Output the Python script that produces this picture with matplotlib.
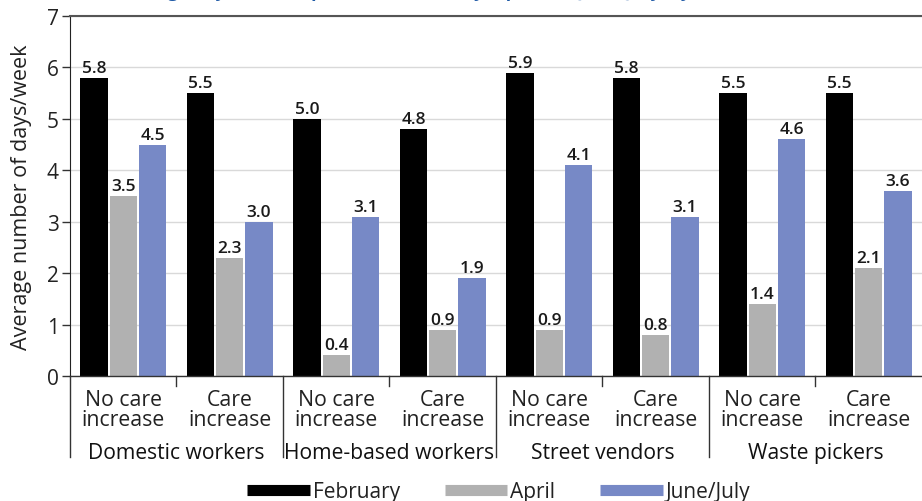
import matplotlib
matplotlib.use('Agg')
import matplotlib.pyplot as plt
from matplotlib.lines import Line2D
import matplotlib.transforms as mtransforms
import numpy as np

plt.rcParams['font.family'] = ['Open Sans', 'DejaVu Sans']

# Data
groups = ['Domestic workers', 'Home-based workers', 'Street vendors', 'Waste pickers']
categories = ['No care\nincrease', 'Care\nincrease'] * 4
series = ['February', 'April', 'June/July']
february = [5.8, 5.5, 5.0, 4.8, 5.9, 5.8, 5.5, 5.5]
april = [3.5, 2.3, 0.4, 0.9, 0.9, 0.8, 1.4, 2.1]
june_july = [4.5, 3.0, 3.1, 1.9, 4.1, 3.1, 4.6, 3.6]
colors = ['#000000', '#b1b1b1', '#7789c6']

fig = plt.figure(figsize=(9.22, 5.02), dpi=100)
ax = fig.add_axes([0.0759, 0.249, 0.9241, 0.717])

x = np.arange(len(categories))
width = 0.255
step = 0.275
for i, (vals, col) in enumerate(zip([february, april, june_july], colors)):
    pos = x + (i - 1) * step
    bars = ax.bar(pos, vals, width, color=col, zorder=3)
    for b, v in zip(bars, vals):
        ax.text(b.get_x() + b.get_width() / 2, v + 0.04, f'{v:.1f}',
                ha='center', va='bottom', fontsize=12.5, fontweight='semibold',
                color='#1a1a1a', zorder=4)

ax.set_xlim(-0.5, len(categories) - 0.5)
ax.set_ylim(0, 7)
ax.set_yticks(range(8))
ax.tick_params(axis='y', labelsize=15, length=6, width=1, color='#333333',
               direction='out', pad=2, labelcolor='#222222')
ax.set_xticks([])
ax.yaxis.grid(True, color='#d9d9d9', linewidth=1, zorder=0)
ax.set_ylabel('Average number of days/week', fontsize=15.5, color='#222222', labelpad=11)

for s in ['right', 'bottom']:
    ax.spines[s].set_visible(False)
ax.spines['top'].set_color('#555555')
ax.spines['top'].set_linewidth(1.5)
ax.spines['left'].set_color('#222222')
ax.spines['left'].set_bounds(0, 7)

# x axis: category labels, separators and group labels
trans = mtransforms.blended_transform_factory(ax.transData, ax.transAxes)
ax.add_line(Line2D([-0.5, 7.5], [0, 0], transform=trans, color='#333333',
                   linewidth=1, clip_on=False, zorder=5))
for k in range(len(categories)):
    ax.text(k, -0.093, categories[k], transform=trans, ha='center', va='center',
            fontsize=15.3, color='#222222', linespacing=0.98)
for k in range(len(categories) + 1):
    xb = k - 0.5
    if k % 2 == 0:
        if k == len(categories):
            continue
        ax.add_line(Line2D([xb, xb], [0, -0.225], transform=trans, color='#333333',
                           linewidth=1, clip_on=False))
    else:
        ax.add_line(Line2D([xb, xb], [0, -0.028], transform=trans, color='#333333',
                           linewidth=1, clip_on=False))
for g, name in enumerate(groups):
    ax.text(2 * g + 0.5, -0.212, name, transform=trans, ha='center', va='center',
            fontsize=15.2, color='#111111')

handles = [Line2D([0], [0], color=c, linewidth=8, solid_capstyle='butt') for c in colors]
fig.legend(handles, series, loc='lower center', bbox_to_anchor=(0.541, -0.04), ncol=3,
           frameon=False, fontsize=15, handlelength=3.0, handletextpad=0.15,
           columnspacing=2.15, labelcolor='#222222')

# title is cut off at the top edge in the reference
fig.text(0.47, 1.0065, 'Average days worked per week, February, April and June/July, by sector',
         ha='center', va='baseline', fontsize=13, fontweight='bold', color='#1f5aa6')

fig.savefig('out.png', dpi=100)
